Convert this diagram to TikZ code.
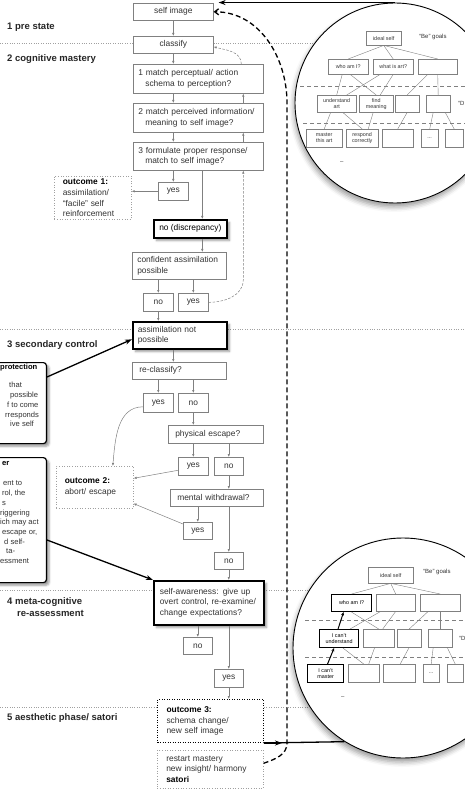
\documentclass[tikz,border=0pt]{standalone}
\usepackage{fontspec}
\setmainfont{Liberation Sans}
\usepackage{tikz}
\usetikzlibrary{arrows.meta, shadows.blur}

\definecolor{linegray}{HTML}{808080}
\definecolor{textgray}{HTML}{333333}
\definecolor{sepgray}{HTML}{A0A0A0}

\newcommand{\boxfont}{\fontsize{8.4}{10.8}\selectfont}
\newcommand{\sectfont}{\fontsize{9.5}{12}\selectfont\bfseries}
\newcommand{\notefont}{\fontsize{7.6}{9.7}\selectfont}
\newcommand{\goalfont}{\fontsize{5.4}{6}\selectfont}

\begin{document}
\begin{tikzpicture}[x=1pt, y=1pt,
  dims/.style 2 args = {minimum width=#1pt, minimum height=#2pt},
  box/.style = {draw=linegray, fill=white, line width=0.6pt, anchor=north west,
        inner xsep=7pt, inner ysep=1pt, font=\boxfont, text=textgray, align=left},
  ctr/.style = {box, align=center, inner xsep=3pt},
  ans/.style = {ctr, dims={30}{18}},
  heavy/.style = {draw=black, line width=1.6pt, blur shadow},
  outc/.style = {box, draw=sepgray, dash pattern=on 1pt off 1.6pt, inner xsep=8.5pt},
  sect/.style = {anchor=west, font=\sectfont, inner sep=0pt, align=left, text=black!85},
  note/.style = {draw=black, line width=1.2pt, rounded corners=3pt, fill=white, blur shadow},
  notetext/.style = {anchor=north west, inner sep=0pt, font=\notefont, text=textgray, align=left},
  sep/.style = {sepgray, line width=0.6pt, dash pattern=on 0.8pt off 1.6pt},
  arr/.style = {linegray, line width=0.5pt, -{Latex[length=3pt,width=2.4pt]}},
  dasharr/.style = {arr, dash pattern=on 2.5pt off 1.5pt},
  bigarr/.style = {black, line width=1.3pt, -{Stealth[length=7pt,width=5pt]}},
  raillink/.style = {black, line width=1.3pt, dash pattern=on 5pt off 3pt,
        -{Straight Barb[length=4pt,width=6pt]}},
  zoomc/.style = {circle, draw=black, line width=0.9pt, fill=white,
        blur shadow={shadow xshift=-1pt, shadow yshift=-4pt, shadow blur radius=5pt}},
  goal/.style = {draw=linegray, line width=0.4pt, fill=white, anchor=north west,
        inner sep=0.5pt, font=\goalfont, text=textgray, align=center},
  goalx/.style = {goal, draw=black, line width=1.1pt, text=black},
  goallabel/.style = {anchor=west, inner sep=0pt, font=\fontsize{6}{7}\selectfont, text=textgray},
  link/.style = {linegray, line width=0.4pt},
  goalarr/.style = {black, line width=1pt, -{Stealth[length=3.5pt,width=3pt]}},
  level/.style = {linegray, line width=0.5pt, dash pattern=on 4pt off 3pt}]

 \useasboundingbox (0,0) rectangle (464,-799);

 % phase separators
 \draw[sep] (0,-43) -- (464,-43);
 \draw[sep] (0,-329) -- (464,-329);
 \draw[sep] (0,-590) -- (464,-590);
 \draw[sep] (0,-707) -- (464,-707);

 \node[sect] (st1) at (7,-27) {1 pre state};
 \node[sect] (st2) at (7,-59) {2 cognitive mastery};
 \node[sect] (st3) at (7,-345) {3 secondary control};
 \node[sect, anchor=north west] (st4) at (7,-597) {4 meta-cognitive\\\hspace*{10pt}re-assessment};
 \node[sect] (st5) at (7,-718) {5 aesthetic phase/ satori};

 % goal hierarchy, before
 \node[zoomc, minimum size=200pt] (zoomA) at (395,-103) {};
 \node[goal, dims={35}{14}] (iself) at (366,-31) {ideal self};
 \node[goallabel] (beA) at (419,-37) {“Be” goals};
 \node[goal, dims={40}{15}] (r1a) at (328,-59) {who am I?};
 \node[goal, dims={40}{15}] (r1b) at (373,-59) {what is art?};
 \node[goal, dims={39}{15}] (r1c) at (418,-59) {};
 \draw[level] (300,-86) -- (470,-86);
 \node[goal, dims={39}{17}] (r2a) at (317,-95) {understand\\art};
 \node[goal, dims={34}{17}] (r2b) at (359,-95) {find\\meaning};
 \node[goal, dims={24}{17}] (r2c) at (395,-95) {};
 \node[goal, dims={24}{17}] (r2d) at (426,-95) {};
 \node[goallabel] (doA) at (458,-103) {“D};
 \draw[level] (303,-123) -- (470,-123);
 \node[goal, dims={36}{18}] (r3a) at (306,-129) {master\\this art};
 \node[goal, dims={32}{18}] (r3b) at (346,-129) {respond\\correctly};
 \node[goal, dims={31}{18}] (r3c) at (382,-129) {};
 \node[goal, dims={17}{18}] (r3d) at (421,-129) {...};
 \node[goal, dims={18}{18}] (r3e) at (445,-129) {};
 \node[goallabel] (dashA) at (340,-163) {–};

 \path[link] (iself.south) edge (r1a.north) edge (r1b.north) edge (r1c.north)
    ([xshift=-6pt]r1a.south) edge (r2a.north)
    ([xshift=2pt]r1a.south) edge (r2b.north)
    ([xshift=-13pt]r1b.south) edge ([xshift=10pt]r2a.north)
    (r1b.south) edge ([xshift=4pt]r2b.north)
    ([xshift=-10pt]r1c.south) edge (r2c.north)
    (r1c.south) edge (r2d.north)
    ([xshift=-6pt]r2a.south) edge (r3a.north)
    ([xshift=6pt]r2a.south) edge (r3b.north)
    ([xshift=-3pt]r2b.south) edge ([xshift=6pt]r3b.north)
    (r2c.south) edge (r3c.north)
    ([xshift=-5pt]r2d.south) edge (r3d.north)
    ([xshift=7pt]r2d.south) edge (r3e.north);

 % goal hierarchy, after
 \node[zoomc, minimum size=220pt] (zoomB) at (403,-648) {};
 \node[goal, dims={45}{16}] (jself) at (368,-567) {ideal self};
 \node[goallabel] (beB) at (423,-572) {“Be” goals};
 \node[goalx, dims={40}{17}] (s1a) at (331,-594) {who am I?};
 \node[goal, dims={39}{17}] (s1b) at (376,-594) {};
 \node[goal, dims={40}{17}] (s1c) at (420,-594) {};
 \draw[level] (305,-620) -- (470,-620);
 \node[goalx, dims={39}{18}] (s2a) at (319,-629) {I can't\\understand};
 \node[goal, dims={31}{18}] (s2b) at (363,-629) {};
 \node[goal, dims={24}{18}] (s2c) at (397,-629) {};
 \node[goal, dims={24}{18}] (s2d) at (428,-629) {};
 \node[goallabel] (doB) at (459,-638) {“D};
 \draw[level] (305,-657) -- (470,-657);
 \node[goalx, dims={36}{18}] (s3a) at (307,-664) {I can't\\master};
 \node[goal, dims={31}{18}] (s3b) at (348,-664) {};
 \node[goal, dims={32}{18}] (s3c) at (383,-664) {};
 \node[goal, dims={16}{18}] (s3d) at (423,-664) {...};
 \node[goal, dims={16}{18}] (s3e) at (447,-664) {};
 \node[goallabel] (dashB) at (341,-698) {–};

 \path[link] (jself.south) edge (s1a.north) edge (s1b.north) edge (s1c.north)
    (s1a.south) edge (s2b.north)
    ([xshift=-15pt]s1b.south) edge ([xshift=11pt]s2a.north)
    (s1b.south) edge ([xshift=4pt]s2b.north)
    ([xshift=-12pt]s1c.south) edge (s2c.north)
    (s1c.south) edge (s2d.north)
    ([xshift=4pt]s2a.south) edge (s3b.north)
    ([xshift=-4pt]s2b.south) edge ([xshift=5pt]s3b.north)
    (s2c.south) edge ([xshift=1pt]s3c.north)
    ([xshift=-7pt]s2d.south) edge (s3d.north)
    ([xshift=7pt]s2d.south) edge (s3e.north);
 \draw[goalarr] ([xshift=2pt]s3a.north) -- ([xshift=-5pt]s2a.south);
 \draw[goalarr] ([xshift=-1pt]s2a.north) -- ([xshift=-8pt]s1a.south);

 % side notes
 \node[note, anchor=north east, dims={110}{81}] (prot) at (47,-362) {};
 \node[notetext] (prottext) at (0,-364) {\textcolor{black}{\textbf{protection}}\\[8.5pt]%
    \hspace*{9pt}that\\\hspace*{10pt}possible\\\hspace*{7pt}f to come\\%
    \hspace*{5pt}rresponds\\\hspace*{10pt}ive self};
 \node[note, anchor=north east, dims={110}{125}] (pow) at (47,-457) {};
 \node[notetext] (powtext) at (0,-461) {\hspace*{2pt}\textcolor{black}{\textbf{er}}\\[11pt]%
    \hspace*{3pt}ent to\\\hspace*{2pt}rol, the\\\hspace*{2pt}s\\riggering\\ich may act\\%
    \hspace*{2pt}escape or,\\\hspace*{4pt}d self-\\\hspace*{6pt}ta-\\essment};

 % main flow
 \node[ctr, dims={80}{17}] (selfimg) at (133,-3) {self image};
 \node[ctr, dims={80}{17}] (classify) at (133,-36) {classify};
 \node[box, dims={130}{29}, inner xsep=5pt, text width=120pt] (m1) at (133,-64)
    {1 match perceptual/ action\\\hspace*{7pt}schema to perception?};
 \node[box, dims={130}{29}, inner xsep=5pt, text width=120pt] (m2) at (133,-103)
    {2 match perceived information/\\\hspace*{7pt}meaning to self image?};
 \node[box, dims={130}{28}, inner xsep=5pt, text width=120pt] (m3) at (133,-142)
    {3 formulate proper response/\\\hspace*{7pt}match to self image?};
 \node[ans] (yes1) at (158,-182) {yes};
 \node[outc, dims={77}{43}, text width=60pt] (out1) at (54,-176)
    {\textcolor{black}{\textbf{outcome 1:}}\\assimilation/\\“facile” self\\reinforcement};
 \node[ctr, heavy, dims={73}{18}, text=black] (nodisc) at (153,-219) {no (discrepancy)};
 \node[box, dims={94}{27}, inner xsep=5pt, text width=84pt] (conf) at (132,-252)
    {confident assimilation\\possible};
 \node[ans] (no2) at (143,-293) {no};
 \node[ans] (yes2) at (178,-293) {yes};
 \node[box, heavy, dims={94}{27}, inner xsep=5pt, text width=84pt] (anp) at (132,-321)
    {assimilation not\\possible};
 \node[box, dims={94}{17}, text width=80pt] (recl) at (132,-362) {re-classify?};
 \node[ans, dims={30}{19}] (yes3) at (143,-393) {yes};
 \node[ans, dims={30}{19}] (no3) at (178,-393) {no};
 \node[box, dims={95}{18}, text width=81pt] (phys) at (168,-425) {physical escape?};
 \node[ans] (yes4) at (178,-457) {yes};
 \node[ans, dims={29}{18}] (no4) at (214,-457) {no};
 \node[outc, dims={77}{42}, text width=60pt] (out2) at (56,-466)
    {\textcolor{black}{\textbf{outcome 2:}}\\abort/ escape};
 \node[box, dims={93}{17}, text width=79pt] (ment) at (170,-489) {mental withdrawal?};
 \node[ans, dims={29}{17}] (yes5) at (183,-522) {yes};
 \node[ans, dims={29}{17}] (no5) at (214,-552) {no};
 \node[box, heavy, dims={110}{44}, inner xsep=6pt, text width=98pt] (selfaw) at (153,-580)
    {self-awareness: give up\\overt control, re-examine/\\change expectations?};
 \node[ans, dims={29}{17}] (no6) at (183,-637) {no};
 \node[ans, dims={29}{18}] (yes6) at (214,-669) {yes};
 \node[outc, draw=black, line width=1pt, dash pattern=on 1pt off 1.5pt,
    dims={106}{43}, text width=88pt] (out3) at (157,-699)
    {\textcolor{black}{\textbf{outcome 3:}}\\schema change/\\new self image};
 \node[outc, dims={106}{38}, text width=88pt] (restart) at (157,-750)
    {restart mastery\\new insight/ harmony\\\textcolor{black}{\textbf{satori}}};

 \coordinate (spine) at ([xshift=4pt]m3.south);
 \coordinate (upline) at ([xshift=45pt]m3.south);
 \coordinate (rail) at (287,0);

 \draw[arr] (selfimg) -- (classify);
 \draw[arr] (classify) -- (classify |- m1.north);
 \draw[arr] (classify |- m1.south) -- (classify |- m2.north);
 \draw[arr] (classify |- m2.south) -- (classify |- m3.north);
 \draw[arr] ([xshift=45pt]m2.north) -- ([xshift=45pt]m1.south);
 \draw[arr] ([xshift=45pt]m3.north) -- ([xshift=45pt]m2.south);
 \draw[dasharr] ([xshift=43pt]m1.north) to[out=90, in=-15] ([yshift=-2pt]classify.east);
 \draw[arr] (m3.south -| yes1) -- (yes1);
 \draw[arr] (yes1) -- (yes1 -| out1.east);
 \draw[arr] (spine) -- (spine |- nodisc.north);
 \draw[arr] (spine |- nodisc.south) -- (spine |- conf.north);
 \draw[arr] (no2 |- conf.south) -- (no2);
 \draw[arr] (yes2 |- conf.south) -- (yes2);
 \draw[dasharr] (yes2.east) to[out=0, in=-90] (upline |- conf.south) -- (upline);
 \draw[arr] (no2) -- (no2 |- anp.north);
 \draw[arr] (classify |- anp.south) -- (classify |- recl.north);
 \draw[arr] (yes3 |- recl.south) -- (yes3);
 \draw[arr] (no3 |- recl.south) -- (no3);
 \draw[arr] ([yshift=-4pt]yes3.west) to[out=180, in=85] ([xshift=18pt]out2.north);
 \draw[arr] (no3) -- (no3 |- phys.north);
 \draw[arr] (yes4 |- phys.south) -- (yes4);
 \draw[arr] (no4 |- phys.south) -- (no4);
 \draw[arr] ([yshift=-4pt]yes4.west) -- ([yshift=9pt]out2.east);
 \draw[arr] (no4) -- (no4 |- ment.north);
 \draw[arr] (yes5 |- ment.south) -- (yes5);
 \draw[arr] ([yshift=-2pt]yes5.north west) -- ([yshift=5pt]out2.south east);
 \draw[arr] (no5 |- ment.south) -- (no5);
 \draw[arr] (no5) -- (no5 |- selfaw.north);
 \draw[arr] (no6 |- selfaw.south) -- (no6);
 \draw[arr] (yes6 |- selfaw.south) -- (yes6);
 \draw[arr] (yes6) -- (yes6 |- out3.north);

 % links to the goal circles and notes
 \draw[black, line width=1.3pt] (out3.south east) -- (zoomB.238);
 \draw[bigarr] (out3.south east) -- ++(18,0);
 \draw[raillink] ([yshift=6pt]restart.east) to[out=20, in=-90] (rail |- out3.south)
    -- (rail |- m2.north) to[out=90, in=0] (selfimg.east);
 \draw[bigarr] (zoomA.north) -- ([xshift=5pt]zoomA.north -| selfimg.east);
 \draw[bigarr] ([yshift=-15pt]prot.north east) -- ([yshift=-4pt]anp.west);
 \draw[bigarr] ([yshift=-83pt]pow.north east) -- (selfaw.north west);
\end{tikzpicture}
\end{document}
